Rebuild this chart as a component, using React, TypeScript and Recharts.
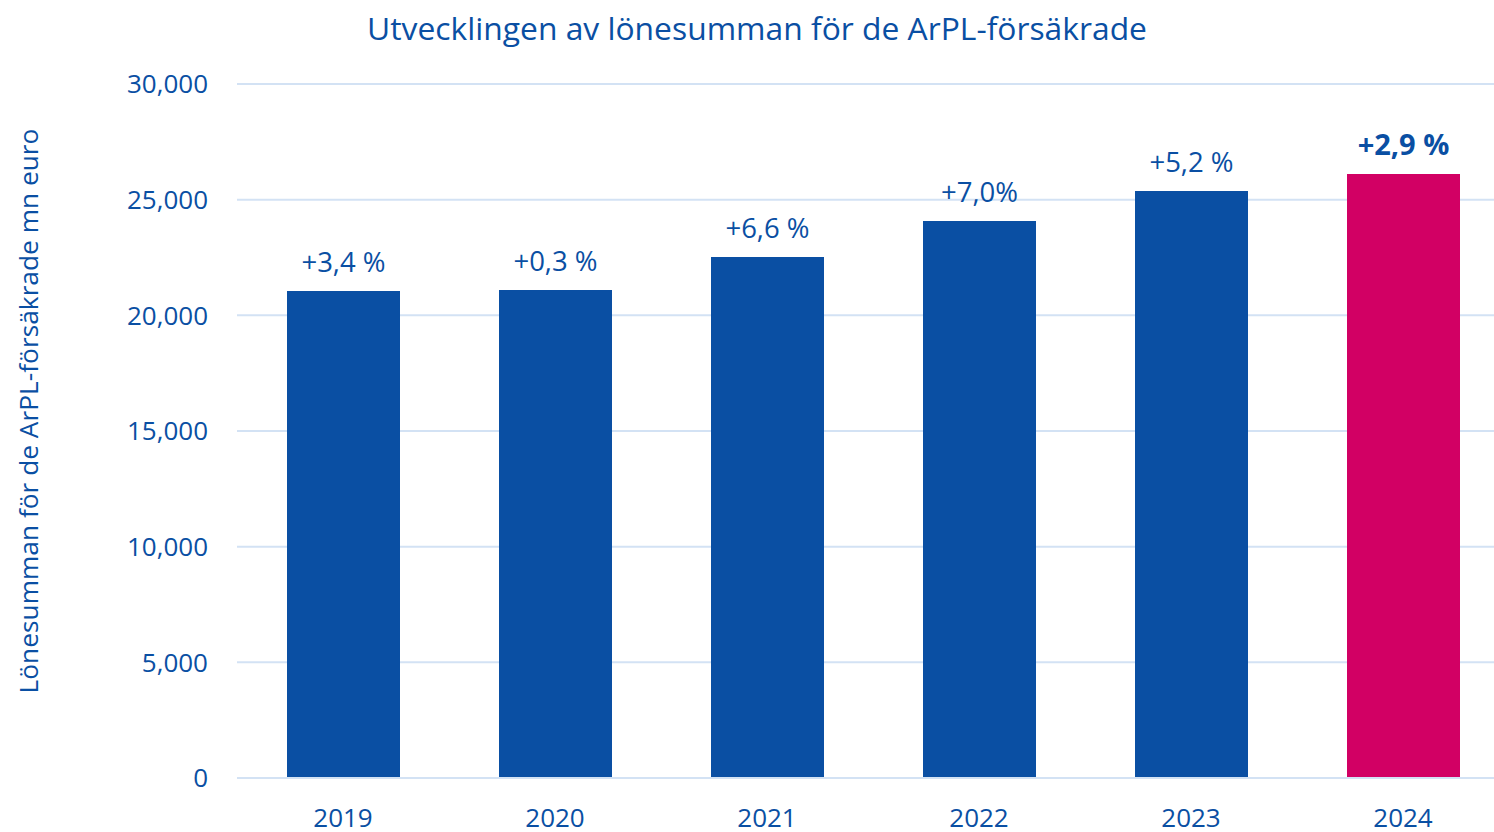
import React from "react";
import { BarChart, Bar, XAxis, YAxis, CartesianGrid, Cell, LabelList } from "recharts";

const years = ["2019", "2020", "2021", "2022", "2023", "2024"];
const payroll = [21050, 21095, 22520, 24080, 25375, 26110];
const changeLabels = ["+3,4 %", "+0,3 %", "+6,6 %", "+7,0%", "+5,2 %", "+2,9 %"];
const yTicks = [0, 5000, 10000, 15000, 20000, 25000, 30000];

const BLUE = "#0a4fa3";
const PINK = "#d20064";
const GRID = "#d3e2f4";
const FONT = "'Open Sans', sans-serif";

const data = years.map((y, i) => ({ year: y, value: payroll[i], label: changeLabels[i] }));

const renderLabel = (props: any) => {
  const { x, y, width, index } = props;
  const last = index === years.length - 1;
  return (
    <text
      x={x + width / 2}
      y={y - 19}
      textAnchor="middle"
      fill={BLUE}
      fontFamily={FONT}
      fontSize={last ? 29 : 27.5}
      fontWeight={last ? 700 : 400}
    >
      {changeLabels[index]}
    </text>
  );
};

const renderYLabel = () => (
  <text
    x={28}
    y={411}
    transform="rotate(-90 28 411)"
    textAnchor="middle"
    dominantBaseline="central"
    fill={BLUE}
    fontFamily={FONT}
    fontSize={26.3}
  >
    Lönesumman för de ArPL-försäkrade mn euro
  </text>
);

export default function App() {
  return (
    <div
      style={{
        position: "fixed",
        left: 0,
        top: 0,
        width: 1494,
        height: 832,
        overflow: "hidden",
        background: "#fff",
      }}
    >
      <div
        style={{
          position: "absolute",
          left: 0,
          width: 1514,
          top: 8,
          textAlign: "center",
          color: BLUE,
          fontFamily: FONT,
          fontSize: 31.8,
          lineHeight: "40px",
          whiteSpace: "nowrap",
        }}
      >
        Utvecklingen av lönesumman för de ArPL-försäkrade
      </div>
      <BarChart
        width={1510}
        height={832}
        data={data}
        margin={{ top: 84, right: 1, bottom: 0, left: 0 }}
        style={{ position: "absolute", left: 0, top: 0 }}
      >
        <CartesianGrid vertical={false} stroke={GRID} strokeWidth={2} />
        <XAxis
          dataKey="year"
          height={54}
          axisLine={{ stroke: GRID, strokeWidth: 2 }}
          tickLine={false}
          tickSize={0}
          tickMargin={31}
          tick={{ fill: BLUE, fontFamily: FONT, fontSize: 26 }}
        />
        <YAxis
          width={237}
          domain={[0, 30000]}
          ticks={yTicks}
          interval={0}
          axisLine={false}
          tickLine={false}
          tickSize={0}
          tickMargin={29}
          tickFormatter={(v: number) => v.toLocaleString("en-US")}
          tick={{ fill: BLUE, fontFamily: FONT, fontSize: 26 }}
          label={{ content: renderYLabel }}
        />
        <Bar dataKey="value" barSize={113} isAnimationActive={false}>
          {data.map((d, i) => (
            <Cell key={d.year} fill={i === years.length - 1 ? PINK : BLUE} />
          ))}
          <LabelList dataKey="label" content={renderLabel} />
        </Bar>
      </BarChart>
    </div>
  );
}
